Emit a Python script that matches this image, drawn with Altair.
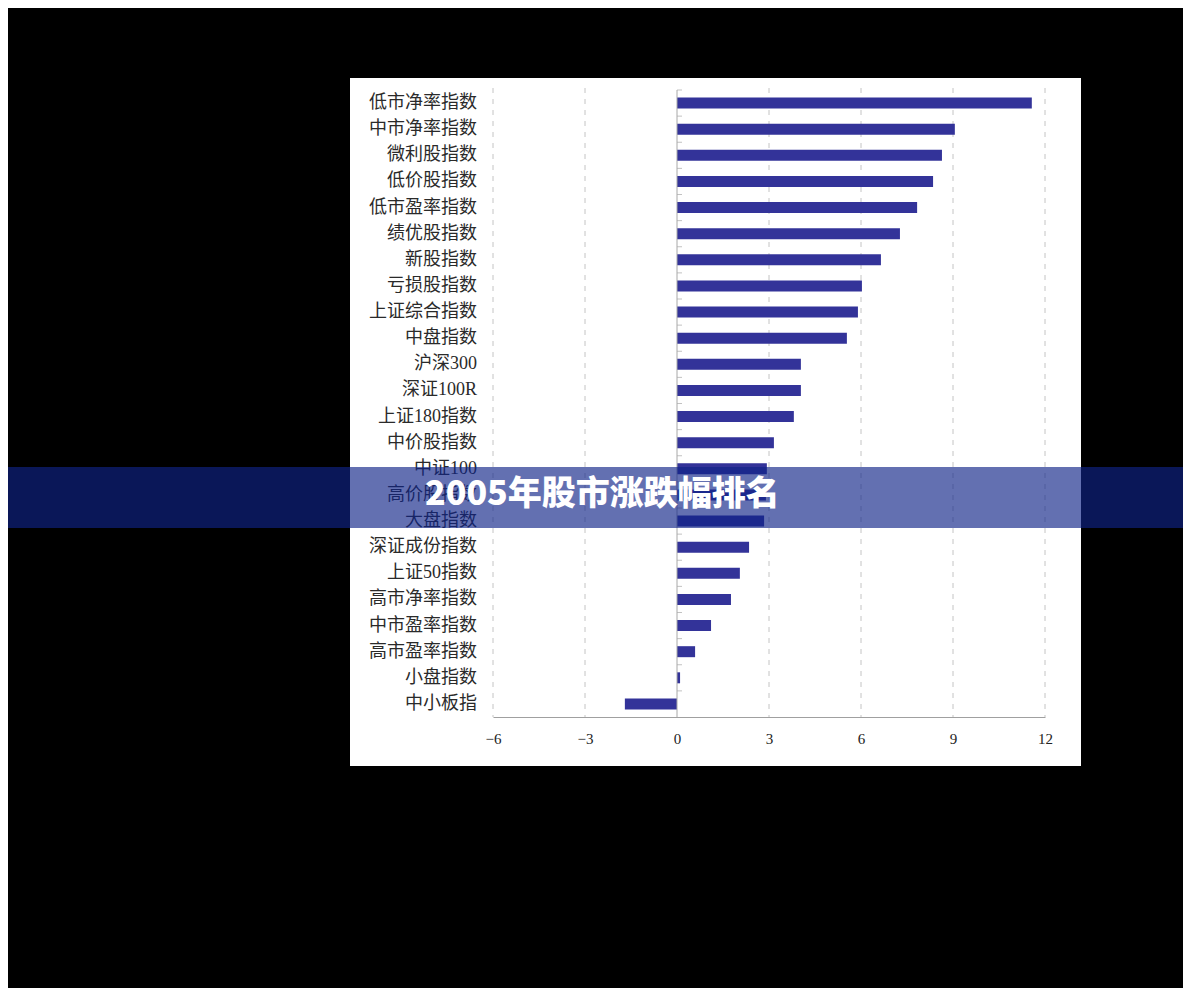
import altair as alt
import pandas as pd

categories = ["低市净率指数", "中市净率指数", "微利股指数", "低价股指数", "低市盈率指数",
              "绩优股指数", "新股指数", "亏损股指数", "上证综合指数", "中盘指数",
              "沪深300", "深证100R", "上证180指数", "中价股指数", "中证100",
              "高价股指数", "大盘指数", "深证成份指数", "上证50指数", "高市净率指数",
              "中市盈率指数", "高市盈率指数", "小盘指数", "中小板指"]
changes = [11.57, 9.06, 8.64, 8.35, 7.83, 7.27, 6.65, 6.03, 5.90, 5.54,
           4.04, 4.04, 3.81, 3.16, 2.93, 2.90, 2.84, 2.35, 2.05, 1.76,
           1.11, 0.59, 0.10, -1.70]
tick_values = [-6, -3, 0, 3, 6, 9, 12]
grid_values = [-6, -3, 3, 6, 9, 12]
title_text = "2005年股市涨跌幅排名"

W, H = 552, 627
STEP = H / len(categories)

df = pd.DataFrame({"cat": categories, "v": changes})
grid_df = pd.DataFrame({"g": grid_values})
zero_df = pd.DataFrame({"z": [0]})
one = alt.Data(values=[{"a": 1}])

xscale = alt.Scale(domain=[-6, 12], nice=False, zero=False)
xaxis = alt.Axis(values=tick_values, grid=False, ticks=False, title=None,
                 domainColor="#a0a0a0", labelFont="Liberation Serif",
                 labelFontSize=15, labelColor="#222222", labelPadding=14,
                 labelFlush=False, labelOverlap=False, zindex=1)
ysort = categories

panel = alt.Chart(one).mark_rect(color="white").encode(
    x=alt.value(-143), x2=alt.value(588), y=alt.value(-12), y2=alt.value(676)
)

grid = alt.Chart(grid_df).mark_rule(color="#c4c4c4", strokeDash=[5, 6], strokeWidth=1).encode(
    x=alt.X("g:Q", scale=xscale, axis=xaxis), y=alt.value(-2), y2=alt.value(H)
)

yline = alt.Chart(zero_df).mark_rule(color="#a8a8a8", strokeWidth=1).encode(
    x=alt.X("z:Q", scale=xscale, axis=xaxis), y=alt.value(0), y2=alt.value(H)
)

yticks = alt.Chart(df).mark_tick(orient="horizontal", size=5, thickness=1, color="#a8a8a8",
                                  xOffset=2.5, yOffset=-STEP / 2).encode(
    x=alt.X("zero:Q", scale=xscale, axis=xaxis),
    y=alt.Y("cat:N", sort=ysort, axis=None),
).transform_calculate(zero="0")

bars = alt.Chart(df).mark_bar(color="#333399", size=11).encode(
    x=alt.X("v:Q", scale=xscale, axis=xaxis),
    y=alt.Y("cat:N", sort=ysort, axis=None),
)

labels = alt.Chart(df).mark_text(align="right", baseline="middle",
                                 font="Liberation Serif, Noto Sans CJK SC",
                                 fontSize=18, color="#2a2a2a").encode(
    x=alt.value(-16),
    y=alt.Y("cat:N", sort=ysort, axis=None),
    text="cat:N",
)

banner = alt.Chart(one).mark_rect(color="#0f2387", opacity=0.65).encode(
    x=alt.value(-495), x2=alt.value(710), y=alt.value(377), y2=alt.value(438)
)

title = alt.Chart(one).mark_text(align="left", baseline="middle", font="Noto Sans CJK SC",
                                 fontWeight=900, fontSize=34, color="white").encode(
    x=alt.value(-68), y=alt.value(405), text=alt.value(title_text)
)

chart = alt.layer(panel, grid, bars, yline, yticks, labels, banner, title).properties(
    width=W, height=H,
    padding={"left": 485, "top": 82, "right": 138, "bottom": 271},
    autosize=alt.AutoSizeParams(type="none"),
    background="black",
).configure_view(strokeWidth=0)

chart.save("out.html", embed_options={"renderer": "svg", "actions": False})
